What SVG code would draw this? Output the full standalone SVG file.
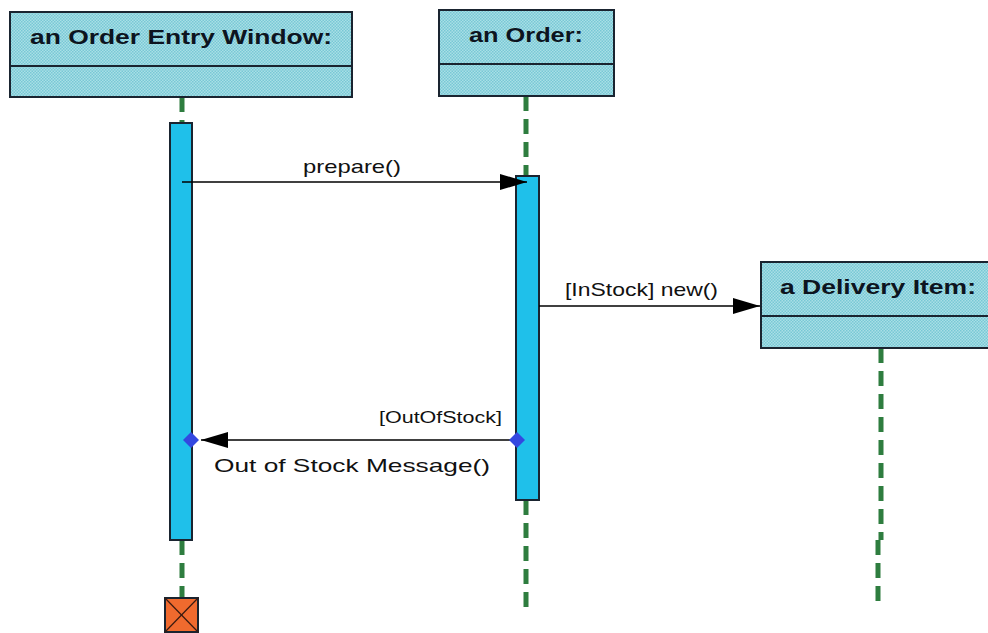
<svg xmlns="http://www.w3.org/2000/svg" width="988" height="633" viewBox="0 0 988 633">
<style>
.obj{fill:url(#hatch);stroke:#1a2430;stroke-width:2}
.div{stroke:#1a2430;stroke-width:2}
.title{font-family:"Liberation Sans",Arial,sans-serif;font-weight:bold;font-size:21px;fill:#0d1420}
.life{stroke:#2e7d3f;stroke-width:5;stroke-dasharray:15 8;fill:none}
.act{fill:#1fc0ea;stroke:#1a2430;stroke-width:2}
.msg{stroke:#000;stroke-width:1.5;fill:none}
.lbl{font-family:"Liberation Sans",Arial,sans-serif;font-size:19px;fill:#111}
.small{font-family:"Liberation Sans",Arial,sans-serif;font-size:16px;fill:#111}
.dia{fill:#3348e0}
</style>
<defs>
<pattern id="hatch" width="3" height="3" patternUnits="userSpaceOnUse">
<rect width="3" height="3" fill="#a9dfe6"/>
<rect width="1.5" height="1.5" fill="#78c8d5"/>
<rect x="1.5" y="1.5" width="1.5" height="1.5" fill="#78c8d5"/>
</pattern>
<marker id="arr" markerWidth="28" markerHeight="20" refX="27" refY="9" orient="auto" markerUnits="userSpaceOnUse">
<path d="M0,1 L27,9 L0,17 Z" fill="#000"/>
</marker>
</defs>
<g id="connectors">
<line class="life" x1="182" y1="97" x2="182" y2="123"/>
<line class="life" x1="182" y1="540" x2="182" y2="597"/>
<line class="life" x1="526" y1="96" x2="526" y2="176"/>
<line class="life" x1="526" y1="500" x2="526" y2="614"/>
<line class="life" x1="881" y1="348" x2="881" y2="540"/>
<line class="life" x1="878" y1="540" x2="878" y2="602"/>
</g>
<g id="orderEntryWindow">
<rect class="obj" x="10" y="12" width="342" height="85"/>
<line class="div" x1="10" y1="66" x2="352" y2="66"/>
<text class="title" x="181" y="44" text-anchor="middle" textLength="302" lengthAdjust="spacingAndGlyphs">an Order Entry Window:</text>
</g>
<g id="order">
<rect class="obj" x="439" y="10" width="175" height="86"/>
<line class="div" x1="439" y1="64" x2="614" y2="64"/>
<text class="title" x="526" y="42" text-anchor="middle" textLength="114" lengthAdjust="spacingAndGlyphs">an Order:</text>
</g>
<g id="deliveryItem">
<rect class="obj" x="761" y="262" width="240" height="86"/>
<line class="div" x1="761" y1="316" x2="988" y2="316"/>
<text class="title" x="780" y="294" textLength="196" lengthAdjust="spacingAndGlyphs">a Delivery Item:</text>
</g>
<g id="activation1">
<rect class="act" x="170" y="123" width="22" height="417"/>
</g>
<g id="activation2">
<rect class="act" x="516" y="176" width="23" height="324"/>
</g>
<g id="destroy">
<rect x="165" y="598" width="33" height="34" fill="#f06a2e" stroke="#1a2430" stroke-width="2"/>
<line x1="165" y1="598" x2="198" y2="632" stroke="#3a1a10" stroke-width="1.2"/>
<line x1="198" y1="598" x2="165" y2="632" stroke="#3a1a10" stroke-width="1.2"/>
</g>
<g id="messages">
<line class="msg" x1="182" y1="182" x2="527" y2="182" marker-end="url(#arr)"/>
<text class="lbl" x="352" y="173" text-anchor="middle" textLength="98" lengthAdjust="spacingAndGlyphs">prepare()</text>
<line class="msg" x1="539" y1="306" x2="760" y2="306" marker-end="url(#arr)"/>
<text class="lbl" x="565" y="296" textLength="153" lengthAdjust="spacingAndGlyphs">[InStock] new()</text>
<line class="msg" x1="517" y1="440" x2="201" y2="440" marker-end="url(#arr)"/>
<path class="dia" d="M191,432 L199,440 L191,448 L183,440 Z"/>
<path class="dia" d="M517,432 L525,440 L517,448 L509,440 Z"/>
<text class="small" x="502" y="423" text-anchor="end" textLength="123" lengthAdjust="spacingAndGlyphs">[OutOfStock]</text>
<text class="lbl" x="214" y="472" textLength="276" lengthAdjust="spacingAndGlyphs">Out of Stock Message()</text>
</g>
</svg>
